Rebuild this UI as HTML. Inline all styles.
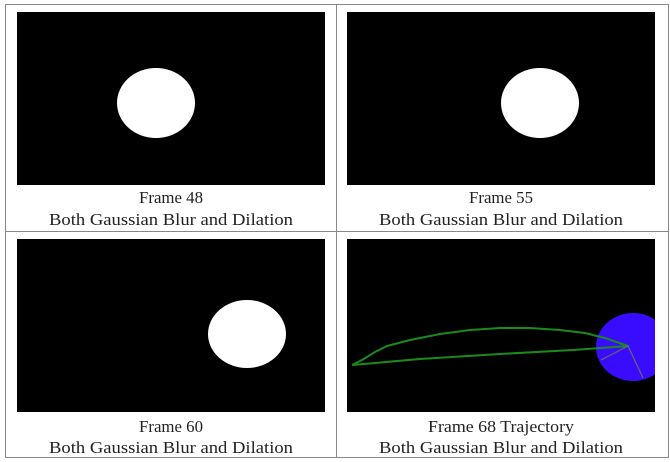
<!DOCTYPE html>
<html><head><meta charset="utf-8"><style>
body{margin:0;background:#fff;width:670px;height:462px;overflow:hidden}
svg{display:block}
text{font-family:"Liberation Serif",serif;font-size:17px;fill:#222;text-anchor:middle}
</style></head><body>
<svg width="670" height="462">
<g stroke="#888" stroke-width="1" fill="none">
<rect x="5.5" y="4.5" width="663" height="453"/>
<line x1="336.5" y1="4" x2="336.5" y2="458"/>
<line x1="5" y1="231.5" x2="669" y2="231.5"/>
</g>
<g>
<rect x="17" y="12" width="308" height="173" fill="#000"/>
<ellipse cx="156" cy="103" rx="39" ry="35" fill="#fff"/>
<text x="171" y="203" textLength="64" lengthAdjust="spacingAndGlyphs">Frame 48</text>
<text x="171" y="225" textLength="244" lengthAdjust="spacingAndGlyphs">Both Gaussian Blur and Dilation</text>
</g>
<g>
<rect x="347" y="12" width="308" height="173" fill="#000"/>
<ellipse cx="540" cy="103" rx="39" ry="35" fill="#fff"/>
<text x="501" y="203" textLength="64" lengthAdjust="spacingAndGlyphs">Frame 55</text>
<text x="501" y="225" textLength="244" lengthAdjust="spacingAndGlyphs">Both Gaussian Blur and Dilation</text>
</g>
<g>
<rect x="17" y="239" width="308" height="173" fill="#000"/>
<ellipse cx="247" cy="334" rx="39" ry="34" fill="#fff"/>
<text x="171" y="432" textLength="64" lengthAdjust="spacingAndGlyphs">Frame 60</text>
<text x="171" y="453" textLength="244" lengthAdjust="spacingAndGlyphs">Both Gaussian Blur and Dilation</text>
</g>
<g>
<clipPath id="c4"><rect x="347" y="239" width="308" height="173"/></clipPath>
<rect x="347" y="239" width="308" height="173" fill="#000"/>
<g clip-path="url(#c4)">
<ellipse cx="633" cy="347" rx="37" ry="34" fill="#3a0cff"/>
<path id="traj" fill="none" stroke="#1a8a1a" stroke-width="2" stroke-linejoin="round"/>
<line x1="628" y1="346" x2="601" y2="360" stroke="#666" stroke-width="1.2"/>
<line x1="628" y1="346" x2="643" y2="378" stroke="#666" stroke-width="1.2"/>
</g>
<text x="501" y="432" textLength="146" lengthAdjust="spacingAndGlyphs">Frame 68 Trajectory</text>
<text x="501" y="453" textLength="244" lengthAdjust="spacingAndGlyphs">Both Gaussian Blur and Dilation</text>
</g>
</svg>
<script>
const trajX=[352,362,375,387,410,440,470,500,530,560,585,605,628,573,500,420,352];
const trajY=[365,360,352,346,340,334,330,328,328,330,333,338,346,350,354,359,365];
const d=trajX.map((x,i)=>(i?'L':'M')+x+','+trajY[i]).join(' ');
document.getElementById('traj').setAttribute('d',d);
</script>
</body></html>
